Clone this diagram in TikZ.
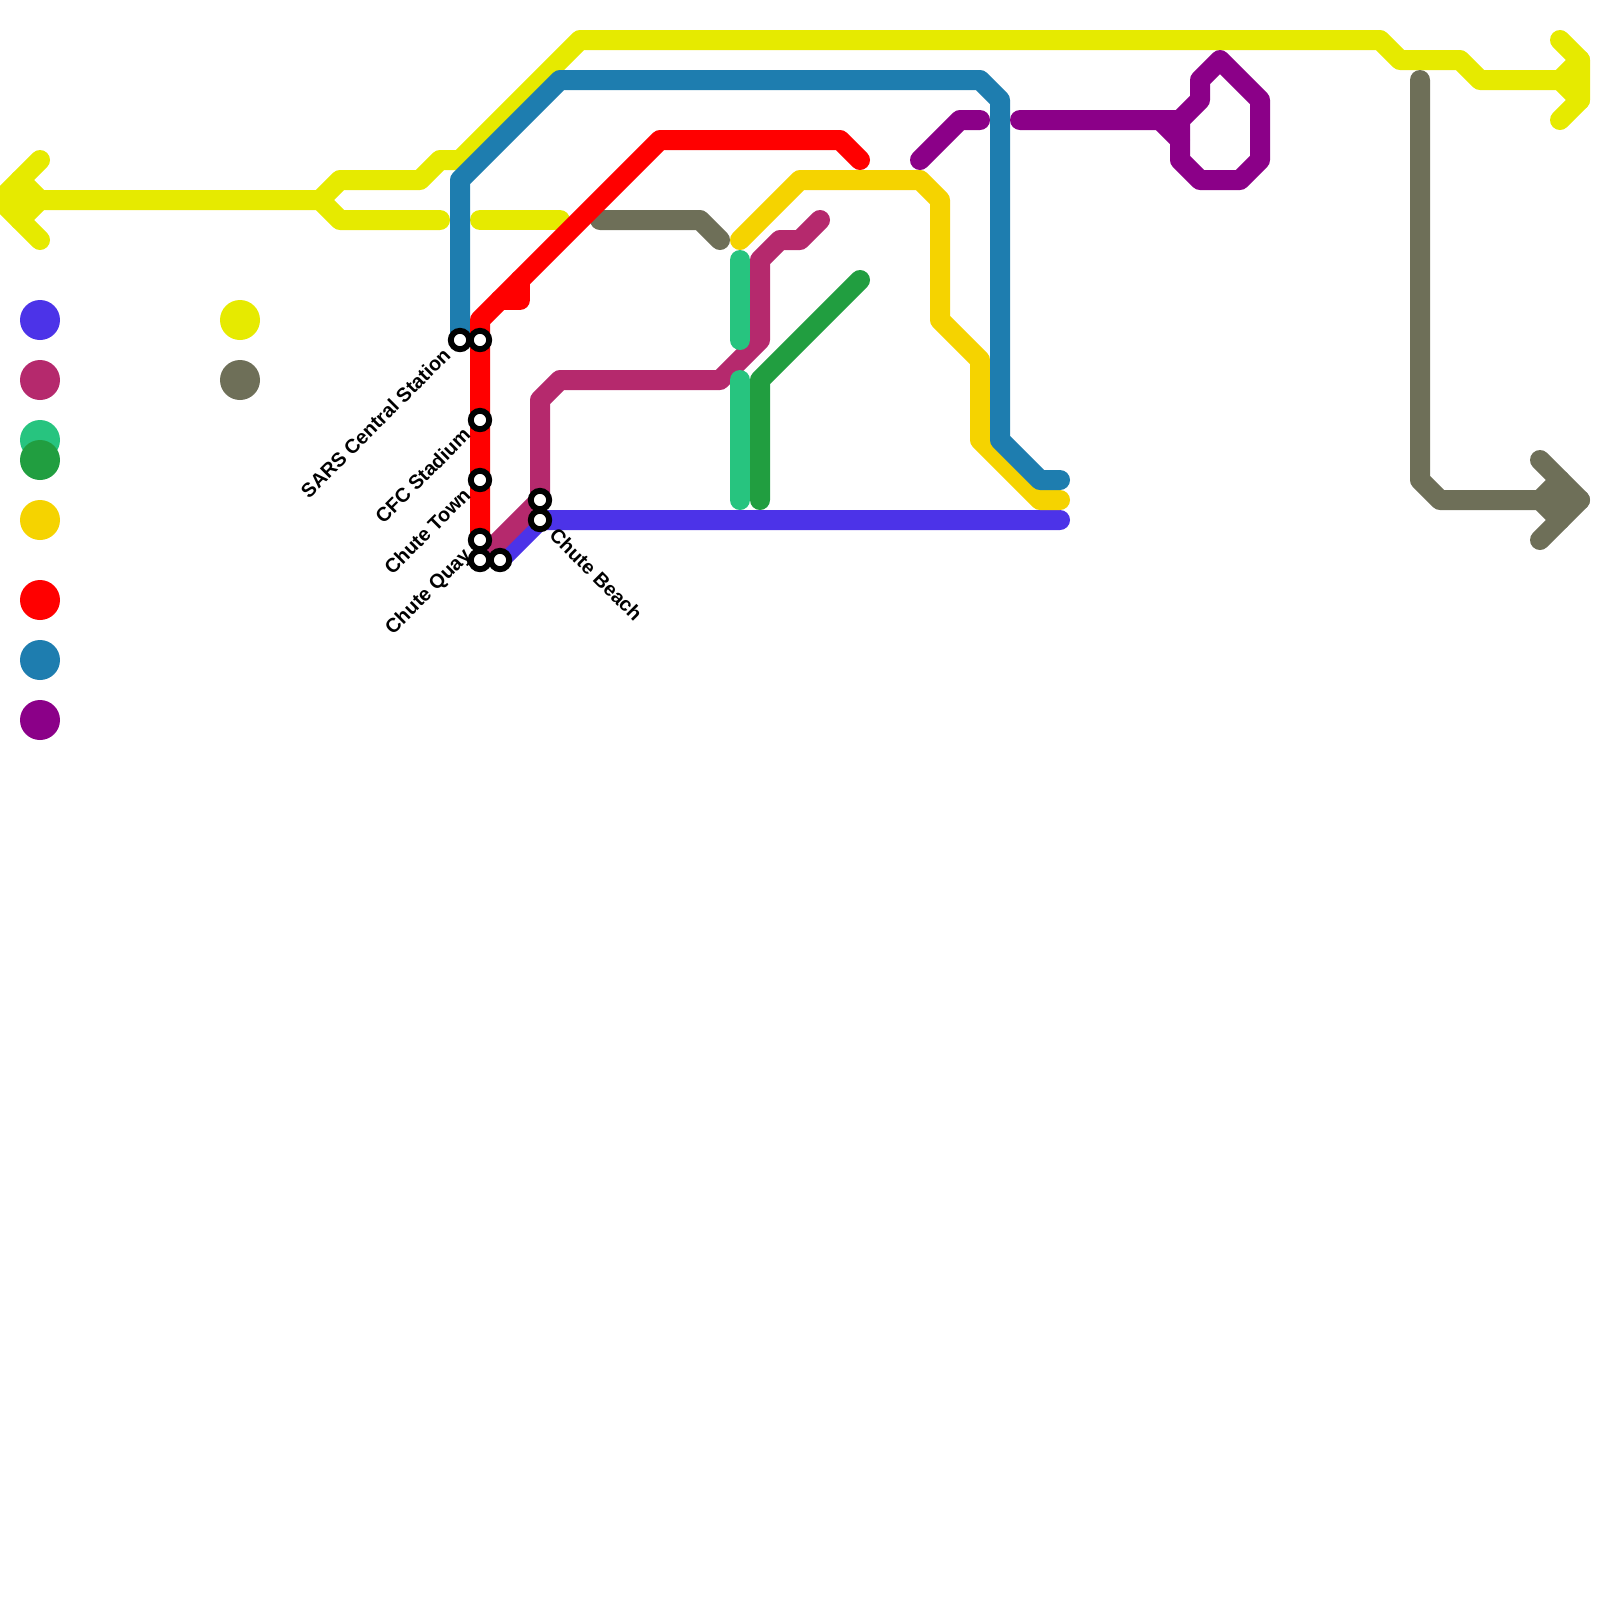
\documentclass[tikz,border=0pt]{standalone}
\usepackage{fontspec}
\setmainfont{Liberation Sans}
\usetikzlibrary{calc}

\definecolor{lineYellow}{HTML}{E6EA00}
\definecolor{lineBlue}{HTML}{1E7DAF}
\definecolor{lineRed}{HTML}{FF0000}
\definecolor{lineGrey}{HTML}{6E6F58}
\definecolor{lineTeal}{HTML}{27C47F}
\definecolor{lineGreen}{HTML}{219E40}
\definecolor{lineGold}{HTML}{F5D300}
\definecolor{lineRose}{HTML}{B5296D}
\definecolor{lineViolet}{HTML}{4C33E8}
\definecolor{linePurple}{HTML}{8B0088}

\tikzset{
  metro/.style={line width=0.25cm, line cap=round, line join=round},
  legenddot/.style={circle, inner sep=0pt, minimum size=0.5cm},
  stationdot/.style={circle, draw=black, fill=white, line width=2.1pt, inner sep=0pt, minimum size=0.23cm},
  stationlabel/.style={font=\bfseries\fontsize{7.05}{8}\selectfont, inner sep=0pt, text height=1.85mm, text depth=0.4mm}
}

\begin{document}
\begin{tikzpicture}[x=0.25cm,y=-0.25cm]

% ---------- Blatt ----------
\useasboundingbox (0,0) rectangle (80,80);
\clip (0,0) rectangle (80,80);

% ===================
% Linien
% ===================
% yellow
\draw[metro, lineYellow] (2,8) -- (0,10) -- (2,12);
\draw[metro, lineYellow] (1,9) -- (2,10) -- (1,11);
\draw[metro, lineYellow] (0,10) -- (16,10) -- (17,9) -- (21,9) -- (22,8) -- (23,8) -- (29,2)
  -- (69,2) -- (70,3) -- (73,3) -- (74,4) -- (78,4);
\draw[metro, lineYellow] (16,10) -- (17,11) -- (22,11);
\draw[metro, lineYellow] (24,11) -- (28,11);
\draw[metro, lineYellow] (78,2) -- (79,3) -- (79,5) -- (78,6);
\draw[metro, lineYellow] (79,3) -- (78,4) -- (79,5);

% grey
\draw[metro, lineGrey] (30,11) -- (35,11) -- (36,12);
\draw[metro, lineGrey] (71,4) -- (71,24) -- (72,25) -- (79,25);
\draw[metro, lineGrey] (77,23) -- (79,25) -- (77,27);
\draw[metro, lineGrey] (78,24) -- (77,25) -- (78,26);

% violet, rose
\draw[metro, lineViolet] (25,28) -- (27,26) -- (53,26);
\draw[metro, lineRose] (24,28) -- (27,25) -- (27,20) -- (28,19) -- (36,19) -- (38,17) -- (38,13)
  -- (39,12) -- (40,12) -- (41,11);

% green, teal
\draw[metro, lineGreen] (43,14) -- (38,19) -- (38,25);
\draw[metro, lineTeal] (37,13) -- (37,17);
\draw[metro, lineTeal] (37,19) -- (37,25);

% gold
\draw[metro, lineGold] (37,12) -- (40,9) -- (46,9) -- (47,10) -- (47,16) -- (49,18) -- (49,22)
  -- (52,25) -- (53,25);

% blue
\draw[metro, lineBlue] (23,17) -- (23,9) -- (28,4) -- (49,4) -- (50,5) -- (50,22) -- (52,24) -- (53,24);

% red
\draw[metro, lineRed] (24,27) -- (24,16) -- (33,7) -- (42,7) -- (43,8);
\draw[metro, lineRed] (25,15) -- (26,15) -- (26,14);

% purple
\draw[metro, linePurple] (46,8) -- (48,6) -- (49,6);
\draw[metro, linePurple] (51,6) -- (59,6) -- (60,5) -- (60,4) -- (61,3) -- (63,5) -- (63,8) -- (62,9)
  -- (60,9) -- (59,8) -- (59,6);
\draw[metro, linePurple] (58,6) -- (59,7);

% ===================
% Legende
% ===================
\foreach \name/\col/\px/\py in {violet/lineViolet/2/16, rose/lineRose/2/19, teal/lineTeal/2/22,
    green/lineGreen/2/23, gold/lineGold/2/26, red/lineRed/2/30, blue/lineBlue/2/33,
    purple/linePurple/2/36, yellow/lineYellow/12/16, grey/lineGrey/12/19}
  \node[legenddot, fill=\col] (key\name) at (\px,\py) {};

% ===================
% Stationen
% ===================
\foreach \name/\px/\py in {sars/23/17, sarsb/24/17, cfc/24/21, town/24/24, quay/24/27,
    quayb/24/28, quayc/25/28, beacha/27/25, beach/27/26}
  \node[stationdot] (\name) at (\px,\py) {};

\node[stationlabel, rotate=45, anchor=east] (lblsars) at ($(sars)+(-0.6,0.6)$) {SARS Central Station};
\node[stationlabel, rotate=45, anchor=east] (lblcfc) at ($(cfc)+(-0.6,0.6)$) {CFC Stadium};
\node[stationlabel, rotate=45, anchor=east] (lbltown) at ($(town)+(-0.6,0.6)$) {Chute Town};
\node[stationlabel, rotate=45, anchor=east] (lblquay) at ($(quay)+(-0.6,0.6)$) {Chute Quay};
\node[stationlabel, rotate=-45, anchor=west] (lblbeach) at ($(beach)+(0.6,0.6)$) {Chute Beach};

\end{tikzpicture}
\end{document}
